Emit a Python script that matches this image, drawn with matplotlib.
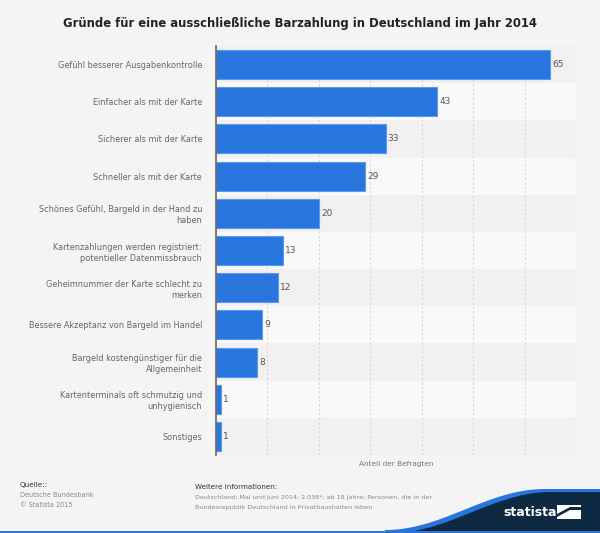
import matplotlib
matplotlib.use("Agg")
import matplotlib.pyplot as plt
import numpy as np
from matplotlib.patches import Polygon, Rectangle

categories = [
    "Gefühl besserer Ausgabenkontrolle",
    "Einfacher als mit der Karte",
    "Sicherer als mit der Karte",
    "Schneller als mit der Karte",
    "Schönes Gefühl, Bargeld in der Hand zu\nhaben",
    "Kartenzahlungen werden registriert:\npotentieller Datenmissbrauch",
    "Geheimnummer der Karte schlecht zu\nmerken",
    "Bessere Akzeptanz von Bargeld im Handel",
    "Bargeld kostengünstiger für die\nAllgemeinheit",
    "Kartenterminals oft schmutzig und\nunhygienisch",
    "Sonstiges",
]
values = [65, 43, 33, 29, 20, 13, 12, 9, 8, 1, 1]
x_ticks = [0, 10, 20, 30, 40, 50, 60, 70]

W, H = 600, 533
fig = plt.figure(figsize=(W / 100, H / 100), dpi=100)
fig.patch.set_facecolor("#f4f4f4")

ax = fig.add_axes([216 / W, 1 - 455 / H, 360 / W, 409 / H])
ax.set_facecolor("#f4f4f4")
n = len(categories)
y = np.arange(n)
ax.set_xlim(0, 70)
ax.set_ylim(n - 0.5, -0.5)

for i in range(n):
    ax.axhspan(i - 0.5, i + 0.5, color="#f1f1f1" if i % 2 == 0 else "#f9f9f9", zorder=0, lw=0)

for xt in x_ticks[1:]:
    ax.axvline(xt, color="#d8d8d8", lw=0.8, ls=(0, (2, 2)), zorder=1)

ax.barh(y, values, height=0.78, color="#2876dd", edgecolor="#5a9aee", linewidth=0.8, zorder=2)
for yi, v in zip(y, values):
    ax.text(v + 0.4, yi, str(v), va="center", ha="left", fontsize=6.5, color="#555555", zorder=3)

ax.set_yticks(y)
ax.set_yticklabels(categories, fontsize=5.9, color="#666666", linespacing=1.3)
ax.tick_params(axis="y", length=0, pad=10)
ax.set_xticks([])
for s in ["top", "right", "bottom"]:
    ax.spines[s].set_visible(False)
ax.spines["left"].set_color("#666666")
ax.spines["left"].set_linewidth(1.2)
ax.set_xlabel("Anteil der Befragten", fontsize=5.3, color="#777777", labelpad=4)

fig.text(0.5, 1 - 23 / H, "Gründe für eine ausschließliche Barzahlung in Deutschland im Jahr 2014",
         ha="center", va="center", fontsize=8.4, fontweight="bold", color="#222222")

fig.text(20 / W, 1 - 485 / H, "Quelle::", fontsize=5.2, color="#333333", va="center")
fig.text(20 / W, 1 - 495 / H, "Deutsche Bundesbank", fontsize=4.7, color="#888888", va="center")
fig.text(20 / W, 1 - 505 / H, "© Statista 2015", fontsize=4.7, color="#888888", va="center")
fig.text(195 / W, 1 - 487 / H, "Weitere Informationen:", fontsize=5.1, color="#333333", va="center")
fig.text(195 / W, 1 - 497.5 / H,
         "Deutschland; Mai und Juni 2014; 2.036*; ab 18 Jahre; Personen, die in der",
         fontsize=4.6, color="#888888", va="center")
fig.text(195 / W, 1 - 507 / H, "Bundesrepublik Deutschland in Privathaushalten leben",
         fontsize=4.6, color="#888888", va="center")

# statista logo band
t = np.linspace(0, 1, 80)
x0, x1 = 385, 545
xs = x0 + t * (x1 - x0)
ys = 533 - (533 - 492) * (0.5 - 0.5 * np.cos(np.pi * t))
blue_pts = [(x / W, 1 - yy / H) for x, yy in zip(xs, ys - 3)] + [(600 / W, 1 - 489 / H), (600 / W, 0), (x0 / W, 0)]
fig.add_artist(Polygon(blue_pts, closed=True, transform=fig.transFigure, facecolor="#2876dd", edgecolor="none"))
navy_pts = [(x / W, 1 - yy / H) for x, yy in zip(xs + 6, ys)] + [(600 / W, 1 - 492 / H), (600 / W, 0), ((x0 + 6) / W, 0)]
fig.add_artist(Polygon(navy_pts, closed=True, transform=fig.transFigure, facecolor="#0e2a43", edgecolor="none"))
fig.add_artist(Rectangle((0, 0), 1, 2.5 / H, transform=fig.transFigure, facecolor="#2876dd", edgecolor="none"))
fig.text(530 / W, 1 - 512 / H, "statista", fontsize=9, fontweight="bold", color="white", ha="center", va="center")
fig.add_artist(Rectangle((557 / W, 1 - 519 / H), 24 / W, 14 / H, transform=fig.transFigure, facecolor="white", edgecolor="none"))
fig.add_artist(Polygon([(557 / W, 1 - 514 / H), (570 / W, 1 - 507 / H), (581 / W, 1 - 507 / H), (581 / W, 1 - 510 / H),
                        (570 / W, 1 - 510 / H), (557 / W, 1 - 517 / H)],
                       closed=True, transform=fig.transFigure, facecolor="#0e2a43", edgecolor="none"))

fig.savefig("out.png", dpi=100, facecolor=fig.get_facecolor())
